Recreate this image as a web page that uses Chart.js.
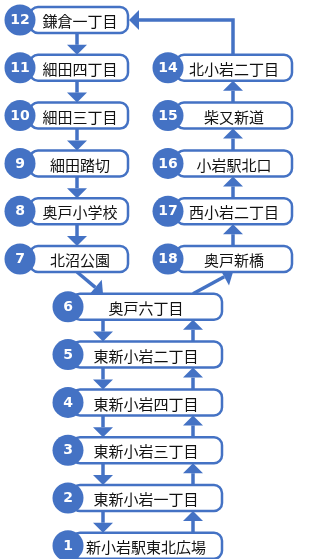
<!DOCTYPE html>
<html lang="ja">
<head>
<meta charset="utf-8">
<script src="https://cdn.jsdelivr.net/npm/chart.js@4.4.1/dist/chart.umd.min.js"></script>
<style>
  html, body { margin: 0; padding: 0; background: #fff; }
  canvas { display: block; }
</style>
</head>
<body>
<canvas id="chart" width="318" height="559"></canvas>
<script>
// bus stops, listed in route order from stop 1 out to stop 12 and back down to 7
const stopNumbers = [1, 2, 3, 4, 5, 6, 18, 17, 16, 15, 14, 12, 11, 10, 9, 8, 7];
const stopNames = ['新小岩駅東北広場', '東新小岩一丁目', '東新小岩三丁目', '東新小岩四丁目', '東新小岩二丁目', '奥戸六丁目',
  '奥戸新橋', '西小岩二丁目', '小岩駅北口', '柴又新道', '北小岩二丁目',
  '鎌倉一丁目', '細田四丁目', '細田三丁目', '細田踏切', '奥戸小学校', '北沼公園'];
const stopColumns = ['center', 'center', 'center', 'center', 'center', 'center',
  'right', 'right', 'right', 'right', 'right',
  'left', 'left', 'left', 'left', 'left', 'left'];
const stopRows = [11, 10, 9, 8, 7, 6, 5, 4, 3, 2, 1, 0, 1, 2, 3, 4, 5];

// the two directions of the route, as stop numbers
const routeOut = [1, 2, 3, 4, 5, 6, 18, 17, 16, 15, 14, 12];
const routeBack = [12, 11, 10, 9, 8, 7, 6, 5, 4, 3, 2, 1];

// drawing geometry (pixels on the x scale)
const cols = {
  left:   { circle: 20,  boxL: 30,  boxR: 128, text: 80,  up: 77,  down: 77 },
  right:  { circle: 168, boxL: 176, boxR: 292, text: 234, up: 233, down: 233 },
  center: { circle: 68,  boxL: 72,  boxR: 222, text: 146, up: 193, down: 103 }
};
const blue = '#4472C4';
const rowPx = 47.8, firstRowPx = 20, boxHalf = 13;

function stopIndex(n) { return stopNumbers.indexOf(n); }

function roundRect(ctx, x, y, w, h, r) {
  ctx.beginPath();
  ctx.moveTo(x + r, y);
  ctx.lineTo(x + w - r, y);
  ctx.arcTo(x + w, y, x + w, y + r, r);
  ctx.lineTo(x + w, y + h - r);
  ctx.arcTo(x + w, y + h, x + w - r, y + h, r);
  ctx.lineTo(x + r, y + h);
  ctx.arcTo(x, y + h, x, y + h - r, r);
  ctx.lineTo(x, y + r);
  ctx.arcTo(x, y, x + r, y, r);
  ctx.closePath();
}

function arrow(ctx, pts) {
  const n = pts.length;
  const [x1, y1] = pts[n - 2], [x2, y2] = pts[n - 1];
  const a = Math.atan2(y2 - y1, x2 - x1);
  const len = 10, half = 10;
  ctx.strokeStyle = blue;
  ctx.lineWidth = 3.5;
  ctx.beginPath();
  ctx.moveTo(pts[0][0], pts[0][1]);
  for (let i = 1; i < n - 1; i++) ctx.lineTo(pts[i][0], pts[i][1]);
  ctx.lineTo(x2 - Math.cos(a) * len, y2 - Math.sin(a) * len);
  ctx.stroke();
  ctx.fillStyle = blue;
  ctx.beginPath();
  ctx.moveTo(x2, y2);
  ctx.lineTo(x2 - Math.cos(a) * len - Math.sin(a) * half, y2 - Math.sin(a) * len + Math.cos(a) * half);
  ctx.lineTo(x2 - Math.cos(a) * len + Math.sin(a) * half, y2 - Math.sin(a) * len - Math.cos(a) * half);
  ctx.closePath();
  ctx.fill();
}

const diagramPlugin = {
  id: 'diagram',
  beforeDatasetsDraw(chart) {
    const ctx = chart.ctx, xs = chart.scales.x, ys = chart.scales.y;
    const X = v => xs.getPixelForValue(v), Y = v => ys.getPixelForValue(v);
    ctx.save();
    // arrows between consecutive stops
    [routeOut, routeBack].forEach(route => {
      for (let k = 0; k < route.length - 1; k++) {
        const a = stopIndex(route[k]), b = stopIndex(route[k + 1]);
        const ca = cols[stopColumns[a]], cb = cols[stopColumns[b]];
        const ya = Y(stopRows[a]), yb = Y(stopRows[b]);
        const goingUp = yb < ya;
        const lane = goingUp ? 'up' : 'down';
        if (stopColumns[a] === 'right' && stopColumns[b] === 'left') {
          // loop back over the top to the first box of the left column
          arrow(ctx, [[X(ca.up), ya - boxHalf], [X(ca.up), yb], [X(cb.boxR) + 1, yb]]);
        } else {
          const sy = goingUp ? ya - boxHalf : ya + boxHalf;
          const ey = goingUp ? yb + boxHalf : yb - boxHalf;
          arrow(ctx, [[X(ca[lane]), sy], [X(cb[lane]), ey]]);
        }
      }
    });
    // stop boxes
    ctx.lineWidth = 2.5;
    ctx.strokeStyle = blue;
    ctx.fillStyle = '#fff';
    stopNumbers.forEach((n, i) => {
      const c = cols[stopColumns[i]], y = Y(stopRows[i]);
      roundRect(ctx, X(c.boxL), y - boxHalf, X(c.boxR) - X(c.boxL), boxHalf * 2, 8);
      ctx.fill();
      ctx.stroke();
    });
    ctx.restore();
  },
  afterDatasetsDraw(chart) {
    const ctx = chart.ctx, xs = chart.scales.x, ys = chart.scales.y;
    ctx.save();
    ctx.textAlign = 'center';
    ctx.textBaseline = 'middle';
    stopNumbers.forEach((n, i) => {
      const c = cols[stopColumns[i]], y = ys.getPixelForValue(stopRows[i]);
      ctx.fillStyle = '#fff';
      ctx.font = 'bold 14px "DejaVu Sans", sans-serif';
      ctx.fillText(String(n), xs.getPixelForValue(c.circle), y + 0.5);
      ctx.fillStyle = '#111';
      ctx.font = '15px "Noto Sans CJK JP", sans-serif';
      ctx.fillText(stopNames[i], xs.getPixelForValue(c.text), y + 1.5);
    });
    ctx.restore();
  }
};

new Chart(document.getElementById('chart'), {
  type: 'scatter',
  data: {
    datasets: [{
      label: 'stops',
      data: stopNumbers.map((n, i) => ({ x: cols[stopColumns[i]].circle, y: stopRows[i] })),
      backgroundColor: blue,
      borderWidth: 0,
      pointRadius: 15.5,
      pointHoverRadius: 15.5
    }]
  },
  options: {
    responsive: false,
    animation: false,
    events: [],
    layout: { padding: 0, autoPadding: false },
    plugins: { legend: { display: false }, tooltip: { enabled: false } },
    scales: {
      x: { type: 'linear', min: 0, max: 318, display: false },
      y: { type: 'linear', min: -firstRowPx / rowPx, max: (559 - firstRowPx) / rowPx, reverse: true, display: false }
    }
  },
  plugins: [diagramPlugin]
});
</script>
</body>
</html>
